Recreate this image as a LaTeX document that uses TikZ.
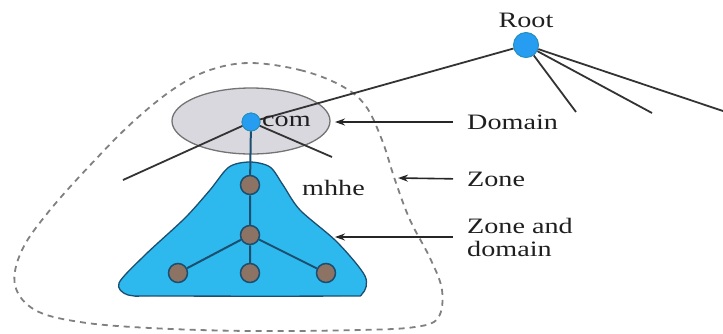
\documentclass[tikz,border=0pt]{standalone}
\usepackage{graphicx}
\usepackage{fontspec}
\setmainfont{Liberation Serif}
\usetikzlibrary{arrows.meta}
\definecolor{azzurro}{RGB}{45,185,238}
\definecolor{bordo}{RGB}{28,78,112}
\definecolor{nodo}{RGB}{140,115,100}
\definecolor{grigio}{RGB}{216,216,222}
\newcommand{\largo}[1]{\scalebox{1.28}[1]{#1}}
\tikzset{
	radice/.style={circle,draw=azzurro!60!bordo,line width=1pt,fill=azzurro!85!blue,minimum size=25pt,inner sep=0pt},
	foglia/.style={circle,draw=azzurro!60!bordo,line width=.8pt,fill=azzurro!85!blue,minimum size=18pt,inner sep=0pt},
	nodino/.style={circle,draw=bordo,line width=1.5pt,fill=nodo,minimum size=19pt,inner sep=0pt},
	etichetta/.style={font=\fontsize{22}{23}\selectfont,text=black!88,inner sep=2pt},
	linea/.style={line width=1.8pt,black!80},
	freccia/.style={-{Stealth[length=10pt,width=7pt]},line width=1.6pt,black!85,shorten <=12pt}
}
\begin{document}
\begin{tikzpicture}[x=1pt,y=-1pt]
	\useasboundingbox (0,0) rectangle (723,333);

	% La zona (linea tratteggiata)
	\draw[line width=1.8pt,black!50,dash pattern=on 6pt off 5pt] plot[smooth cycle,tension=.6] coordinates {(250,63) (300,70) (340,85) (365,105) (382,140) (395,180) (410,220) (430,258) (442,290) (438,318) (415,327) (360,330) (250,331) (150,328) (80,322) (35,310) (15,285) (22,250) (50,210) (95,160) (135,120) (175,88) (210,70)};

	% Il dominio com
	\draw[black!55,fill=grigio,line width=1.3pt] (251,121) ellipse (79 and 33);

	% Il dominio e zona mhhe
	\draw[bordo,fill=azzurro,line width=1.3pt] plot[smooth cycle,tension=.5] coordinates {(250,162) (270,167) (283,185) (300,210) (337,242) (365,276) (362,294) (340,296) (160,296) (128,295) (119,283) (145,255) (185,218) (210,190) (229,167)};

	\node[radice] (root) at (526,45) {};
	\node[etichetta,above=2pt] (lroot) at (root.north) {\largo{Root}};
	\coordinate (r1) at (576,112);
	\coordinate (r2) at (652,113);
	\coordinate (r3) at (723,111);
	\draw[linea] (root) -- (r1);
	\draw[linea] (root) -- (r2);
	\draw[linea] (root) -- (r3);

	\node[foglia] (com) at (251,122) {};
	\coordinate (c1) at (123,180);
	\coordinate (c2) at (332,157);
	\draw[linea] (root) -- (com); % verso com
	\draw[linea] (com) -- (c1);
	\draw[linea] (com) -- (c2);
	\node[foglia] at (com) {};
	\node[etichetta,anchor=west] (lcom) at (260,121) {\largo{com}};

	% L'albero di mhhe
	\node[nodino] (m1) at (250,185) {};
	\node[nodino] (m2) at (250,235) {};
	\node[nodino] (f1) at (178,273) {};
	\node[nodino] (f2) at (250,273) {};
	\node[nodino] (f3) at (326,273) {};
	\draw[bordo,line width=2pt] (com) -- (m1) -- (m2) -- (f2);
	\draw[bordo,line width=2pt] (m2) -- (f1);
	\draw[bordo,line width=2pt] (m2) -- (f3);
	\node[etichetta,anchor=west] (lmhhe) at (300,188) {\largo{mhhe}};

	% Le etichette a destra
	\node[etichetta,anchor=west] (ldomain) at (465,122) {\largo{Domain}};
	\node[etichetta,anchor=west] (lzone) at (465,179) {\largo{Zone}};
	\node[etichetta,anchor=west,align=left] (lzd) at (465,237) {\largo{Zone and}\\\largo{domain}};
	\coordinate (pdomain) at (335,122);
	\coordinate (pzone) at (398,178);
	\coordinate (pzd) at (335,237);
	\draw[freccia] (ldomain.west) -- (pdomain);
	\draw[freccia] (lzone.west) -- (pzone);
	\draw[freccia] (lzd.west) -- (pzd);
\end{tikzpicture}
\end{document}
